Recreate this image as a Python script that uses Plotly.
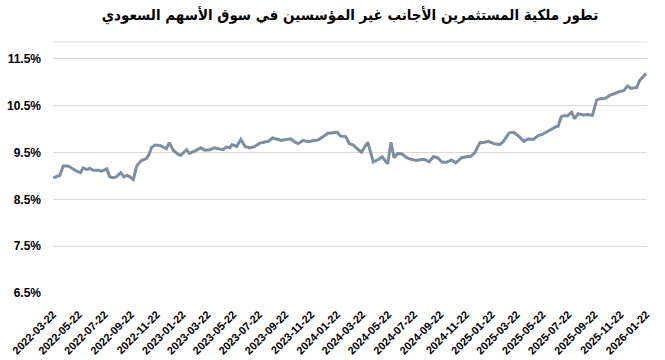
import plotly.graph_objects as go

title_text = "تطور ملكية المستثمرين الأجانب غير المؤسسين في سوق الأسهم السعودي"

dates = [
    "2022-03-22", "2022-03-31", "2022-04-07", "2022-04-15", "2022-04-27", "2022-05-05",
    "2022-05-17", "2022-05-26", "2022-06-01", "2022-06-09", "2022-06-17", "2022-06-25",
    "2022-07-07", "2022-07-15", "2022-07-27", "2022-08-03", "2022-08-11", "2022-08-19",
    "2022-08-29", "2022-09-06", "2022-09-13", "2022-09-20", "2022-09-28", "2022-10-06",
    "2022-10-17", "2022-10-29", "2022-11-04", "2022-11-10", "2022-11-18", "2022-11-30",
    "2022-12-04", "2022-12-15", "2022-12-22", "2022-12-31", "2023-01-12", "2023-01-18",
    "2023-02-01", "2023-02-07", "2023-02-20", "2023-03-06", "2023-03-16", "2023-03-28",
    "2023-04-07", "2023-04-16", "2023-04-28", "2023-05-06", "2023-05-14", "2023-05-19",
    "2023-05-30", "2023-06-09", "2023-06-19", "2023-06-30", "2023-07-12", "2023-07-24",
    "2023-08-05", "2023-08-13", "2023-08-23", "2023-09-02", "2023-09-13", "2023-09-25",
    "2023-10-05", "2023-10-15", "2023-10-23", "2023-11-03", "2023-11-15", "2023-11-27",
    "2023-12-09", "2023-12-21", "2024-01-01", "2024-01-13", "2024-01-23", "2024-01-31",
    "2024-02-12", "2024-02-20", "2024-03-01", "2024-03-10", "2024-03-20", "2024-04-04",
    "2024-04-17", "2024-04-29", "2024-05-08", "2024-05-21", "2024-05-29", "2024-06-05",
    "2024-06-14", "2024-06-24", "2024-07-05", "2024-07-17", "2024-07-29", "2024-08-08",
    "2024-08-17", "2024-08-27", "2024-09-06", "2024-09-16", "2024-09-27", "2024-10-07",
    "2024-10-19", "2024-10-29", "2024-11-12", "2024-11-24", "2024-12-04", "2024-12-13",
    "2024-12-25", "2025-01-06", "2025-01-14", "2025-01-27", "2025-02-10", "2025-02-18",
    "2025-03-04", "2025-03-15", "2025-03-28", "2025-04-08", "2025-04-18", "2025-04-30",
    "2025-05-12", "2025-05-20", "2025-06-01", "2025-06-13", "2025-06-25", "2025-06-28",
    "2025-07-05", "2025-07-12", "2025-07-20", "2025-07-30", "2025-08-06", "2025-08-14",
    "2025-08-26", "2025-09-07", "2025-09-17", "2025-09-27", "2025-10-05", "2025-10-18",
    "2025-10-28", "2025-11-09", "2025-11-19", "2025-11-30", "2025-12-09", "2025-12-17",
    "2025-12-31", "2026-01-06", "2026-01-14", "2026-01-22",
]

ownership_pct = [
    8.96, 8.98, 9.01, 9.21, 9.21, 9.17,
    9.10, 9.07, 9.17, 9.14, 9.16, 9.12,
    9.12, 9.10, 9.15, 8.98, 8.96, 8.98,
    9.07, 8.98, 9.01, 8.98, 8.92, 9.22,
    9.33, 9.37, 9.46, 9.61, 9.66, 9.65,
    9.63, 9.58, 9.71, 9.55, 9.46, 9.44,
    9.56, 9.48, 9.53, 9.60, 9.55, 9.56,
    9.60, 9.58, 9.56, 9.62, 9.60, 9.67,
    9.63, 9.78, 9.63, 9.60, 9.63, 9.70,
    9.72, 9.74, 9.81, 9.79, 9.76, 9.78,
    9.79, 9.72, 9.69, 9.76, 9.73, 9.75,
    9.77, 9.84, 9.91, 9.92, 9.93, 9.85,
    9.84, 9.69, 9.66, 9.58, 9.51, 9.72,
    9.30, 9.35, 9.41, 9.26, 9.72, 9.39,
    9.48, 9.47, 9.39, 9.35, 9.33, 9.35,
    9.35, 9.30, 9.41, 9.39, 9.29, 9.29,
    9.34, 9.28, 9.39, 9.41, 9.42, 9.50,
    9.71, 9.72, 9.74, 9.69, 9.67, 9.73,
    9.92, 9.93, 9.84, 9.74, 9.79, 9.78,
    9.86, 9.88, 9.94, 10.01, 10.06, 10.06,
    10.26, 10.29, 10.28, 10.36, 10.22, 10.33,
    10.30, 10.31, 10.29, 10.62, 10.65, 10.66,
    10.72, 10.76, 10.80, 10.82, 10.92, 10.87,
    10.89, 11.03, 11.10, 11.19,
]

y_ticks = [6.5, 7.5, 8.5, 9.5, 10.5, 11.5]
y_tick_labels = ["6.5%", "7.5%", "8.5%", "9.5%", "10.5%", "11.5%"]

fig = go.Figure()
fig.add_trace(go.Scatter(
    x=dates, y=ownership_pct, mode="lines",
    line=dict(color="#7b8fa3", width=3),
    hoverinfo="skip", showlegend=False,
))

FONT = "Arial, 'Liberation Sans', 'DejaVu Sans', sans-serif"

fig.update_layout(
    width=665, height=360,
    margin=dict(l=53, r=18, t=42, b=67),
    paper_bgcolor="white", plot_bgcolor="white",
    title=dict(
        text=title_text, x=0.5, xref="paper", xanchor="center",
        y=1 - 15 / 360, yref="container", yanchor="middle",
        font=dict(family="'DejaVu Sans Condensed', 'DejaVu Sans', Arial, sans-serif",
                  size=15, color="black", weight="bold"),
    ),
    xaxis=dict(
        type="date", automargin=False,
        range=["2022-03-22", "2026-01-24"],
        tick0="2022-03-22", dtick="M2", tickformat="%Y-%m-%d",
        tickangle=-45,
        tickfont=dict(family=FONT, size=11, color="black", weight="bold"),
        showgrid=False, showline=False, zeroline=False, ticks="",
        ticklabelstandoff=12,
    ),
    yaxis=dict(
        automargin=False,
        range=[6.5, 11.86],
        tickvals=y_ticks, ticktext=y_tick_labels,
        tickfont=dict(family=FONT, size=12, color="black", weight="bold"),
        showgrid=True, gridcolor="#d9d9d9", gridwidth=1,
        zeroline=False, showline=False, ticks="",
        ticklabelstandoff=11,
    ),
)

fig.add_shape(type="line", xref="paper", yref="paper", x0=0, x1=1, y0=1, y1=1,
              line=dict(color="#d9d9d9", width=1), layer="below")

fig.write_html("out.html")
